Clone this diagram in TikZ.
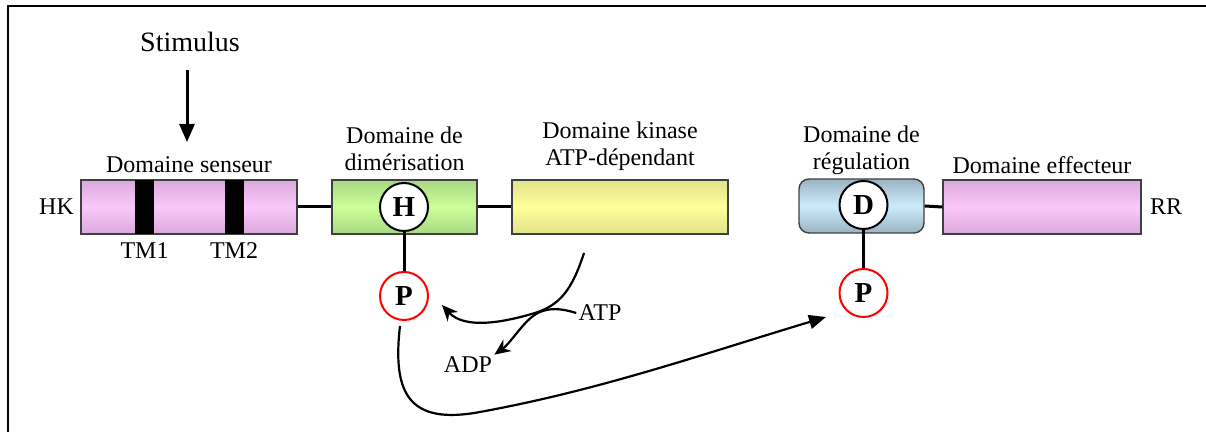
\documentclass[tikz,border=0pt]{standalone}
\usepackage{fontspec}
\setmainfont{Liberation Serif}
\usetikzlibrary{arrows.meta, positioning}

\definecolor{pinkmid}{HTML}{FAC8FA}
\definecolor{pinkedge}{HTML}{DAA8DA}
\definecolor{greenmid}{HTML}{CCFF99}
\definecolor{greenedge}{HTML}{A8D884}
\definecolor{yellowmid}{HTML}{FFFF99}
\definecolor{yellowedge}{HTML}{E2E28A}
\definecolor{bluemid}{HTML}{CCECFC}
\definecolor{blueedge}{HTML}{9BB3C2}

\newcommand{\joindom}[2]{% plain link between two domains
  \draw [linker] (#1) -- (#2);
  }

\begin{document}
\begin{tikzpicture}[x=0.5pt, y=-0.5pt,
  dombox/.style={
    % The shape:
    rectangle,
    % The size:
    minimum height=27pt, inner sep=0pt,
    % The border:
    draw=black!75, line width=0.7pt
  },
  fillgrad/.style 2 args={top color=#2, bottom color=#2, middle color=#1},
  tmbar/.style={rectangle, fill=black, minimum width=9.5pt, minimum height=27pt, inner sep=0pt},
  residue/.style={
    circle, minimum size=24pt, inner sep=0pt,
    draw=black, line width=1pt, fill=white,
    font=\fontsize{14.5}{14.5}\selectfont\bfseries
  },
  phos/.style={residue, draw=red},
  lab/.style={font=\fontsize{12}{13.5}\selectfont, align=center, inner sep=1pt},
  linker/.style={line width=1.5pt},
  curve/.style={line width=1.1pt},
  ]

  \useasboundingbox (0,0) rectangle (1206,432);
  \draw [line width=1pt] (8,440) -- (8,6) -- (1215,6);

  % histidine kinase
  \node (sens) [dombox, fillgrad={pinkmid}{pinkedge}, minimum width=108pt] at (189,207) {};
  \node (dimer) [dombox, fillgrad={greenmid}{greenedge}, minimum width=72.5pt] at (404.5,207) {};
  \node (kin) [dombox, fillgrad={yellowmid}{yellowedge}, minimum width=108pt] at (620,207) {};

  % response regulator
  \node (reg) [dombox, fillgrad={bluemid}{blueedge}, minimum width=62.5pt, rounded corners=5pt] at (861.5,206) {};
  \node (eff) [dombox, fillgrad={pinkmid}{pinkedge}, minimum width=99pt] at (1042,207) {};

  % transmembrane segments
  \foreach \n/\x in {1/144.5, 2/234}
  {
    \node (tm\n) [tmbar] at (\x,207) {};
    \node [lab, below=3pt of tm\n] {TM\n};
  }

  \joindom{sens.east}{dimer.west}
  \joindom{dimer.east}{kin.west}
  \joindom{reg.east}{eff.west}

  % domain labels
  \node [lab, above=2pt of sens] {Domaine senseur};
  \node [lab, above=3pt of dimer] {Domaine de\\dimérisation};
  \node [lab, above=3pt of kin] {Domaine kinase\\ATP-dépendant};
  \node [lab, above=0.5pt of reg] {Domaine de\\régulation};
  \node [lab, above=1.5pt of eff] {Domaine effecteur};
  \node [lab, left=2pt of sens] {HK};
  \node [lab, right=3pt of eff] {RR};

  % residues and phosphates
  \node (his) [residue] at (404,207) {H};
  \node (asp) [residue] at (863.5,205) {D};
  \node (phk) [phos] at (404,296) {P};
  \node (prr) [phos] at (863.5,293) {P};
  \joindom{his.south}{phk.north}
  \joindom{asp.south}{prr.north}

  % stimulus
  \node (stim) [lab, font=\fontsize{14}{14}\selectfont] at (190,42) {Stimulus};
  \coordinate (stimtip) at (187,142);
  \draw [linker, -{Triangle[length=9pt, width=7.5pt]}, shorten <=8pt] (stim.south -| stimtip) -- (stimtip);

  % phosphotransfer
  \node (atp) [lab] at (600,313) {ATP};
  \node (adp) [lab] at (468,365) {ADP};
  \coordinate (kinout) at (584,253);
  \coordinate (phin) at (442,305);
  \coordinate (hkout) at (400,326);
  \coordinate (rrin) at (826,317);
  \draw [curve, -{Stealth[length=8pt, width=7pt]}] (kinout) .. controls (572,290) and (560,305) .. (535,313)
    .. controls (505,322) and (465,330) .. (phin);
  \draw [curve, -{Stealth[length=8pt, width=7pt]}] (atp.west) .. controls (560,308) and (550,308) .. (540,312)
    .. controls (525,318) and (512,342) .. (adp.north east);
  \draw [curve, -{Triangle[length=8.5pt, width=7pt]}] (hkout) .. controls (392,395) and (410,425) .. (480,412)
    .. controls (600,390) and (700,355) .. (rrin);

\end{tikzpicture}
\end{document}
